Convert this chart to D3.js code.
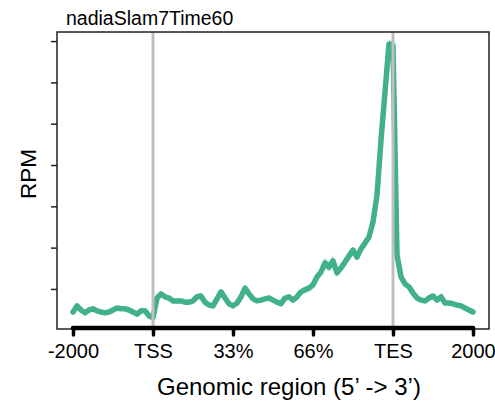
<!DOCTYPE html>
<meta charset="utf-8">
<head>
    <title>nadiaSlam7Time60</title>
    <script type="text/javascript" src="https://cdn.jsdelivr.net/npm/d3@7/dist/d3.min.js"></script>
    <style>
        body { margin: 0; background: #fff; }
        text { font-family: 'Liberation Sans', Arial, Helvetica, sans-serif; fill: #000; }
    </style>
</head>
<body>
    <div id="chart"></div>
    <script>
        // bin positions along the metagene (0 = -2000, 20 = TSS, 80 = TES, 100 = +2000)
        var bins = d3.range(0, 101);

        // average RPM per bin
        var rpm = [0.44, 0.59, 0.49, 0.42, 0.49, 0.52, 0.47, 0.44, 0.42, 0.44,
                   0.49, 0.54, 0.52, 0.52, 0.49, 0.44, 0.39, 0.47, 0.47, 0.35,
                   0.30, 0.78, 0.88, 0.81, 0.78, 0.71, 0.71, 0.71, 0.68, 0.68,
                   0.71, 0.81, 0.83, 0.68, 0.61, 0.59, 0.76, 0.93, 0.78, 0.64,
                   0.59, 0.66, 0.81, 1.02, 0.88, 0.76, 0.71, 0.73, 0.76, 0.78,
                   0.73, 0.68, 0.64, 0.78, 0.81, 0.73, 0.81, 0.93, 0.98, 1.02,
                   1.10, 1.29, 1.41, 1.63, 1.53, 1.68, 1.39, 1.51, 1.65, 1.80,
                   1.94, 1.77, 1.97, 2.11, 2.26, 2.62, 3.27, 4.60, 5.77, 6.93,
                   6.90, 1.82, 1.29, 1.12, 1.05, 0.90, 0.78, 0.73, 0.71, 0.78,
                   0.83, 0.73, 0.81, 0.66, 0.66, 0.64, 0.61, 0.59, 0.54, 0.49,
                   0.44];

        // standard error band half-width per bin
        var se = [0.04, 0.04, 0.04, 0.04, 0.04, 0.04, 0.04, 0.04, 0.04, 0.04,
                  0.04, 0.04, 0.04, 0.04, 0.04, 0.04, 0.04, 0.04, 0.04, 0.04,
                  0.05, 0.06, 0.06, 0.06, 0.06, 0.06, 0.06, 0.06, 0.06, 0.06,
                  0.06, 0.07, 0.08, 0.06, 0.06, 0.06, 0.07, 0.08, 0.07, 0.06,
                  0.06, 0.06, 0.07, 0.08, 0.07, 0.06, 0.05, 0.05, 0.05, 0.05,
                  0.05, 0.05, 0.05, 0.06, 0.06, 0.06, 0.07, 0.08, 0.08, 0.08,
                  0.09, 0.10, 0.10, 0.14, 0.12, 0.14, 0.10, 0.09, 0.09, 0.08,
                  0.08, 0.08, 0.08, 0.07, 0.07, 0.07, 0.07, 0.07, 0.08, 0.10,
                  0.10, 0.06, 0.05, 0.05, 0.05, 0.04, 0.04, 0.04, 0.04, 0.05,
                  0.05, 0.05, 0.05, 0.04, 0.04, 0.04, 0.04, 0.04, 0.04, 0.04,
                  0.04];

        var xTickPos = [0, 20, 40, 60, 80, 100];
        var xTickLabels = ["-2000", "TSS", "33%", "66%", "TES", "2000"];
        var markers = [20, 80];   // TSS and TES
        var yTicks = [1, 2, 3, 4, 5, 6, 7];

        var title = "nadiaSlam7Time60";
        var xTitle = "Genomic region (5\u2019 -> 3\u2019)";
        var yTitle = "RPM";

        var w = 495, h = 401;
        // plot box (note: "top" is reserved on window, so use other names)
        var boxL = 57, boxR = 489, boxT = 32, boxB = 329;
        var lineColor = "#42b08b";

        var svg = d3.select("#chart").append("svg")
            .attr("width", w)
            .attr("height", h);

        var x = d3.scaleLinear().domain([-4, 104]).range([boxL, boxR]);
        var y = d3.scaleLinear().domain([0.03, 7.22]).range([boxB, boxT]);

        var data = bins.map(function(b, i) {
            return { b: b, v: rpm[i], lo: rpm[i] - se[i], hi: rpm[i] + se[i] };
        });

        // confidence band
        svg.append("path")
            .datum(data)
            .attr("fill", lineColor)
            .attr("fill-opacity", 0.3)
            .attr("d", d3.area()
                .x(function(d) { return x(d.b); })
                .y0(function(d) { return y(d.lo); })
                .y1(function(d) { return y(d.hi); }));

        // profile line
        svg.append("path")
            .datum(data)
            .attr("fill", "none")
            .attr("stroke", lineColor)
            .attr("stroke-width", 5.5)
            .attr("stroke-linejoin", "round")
            .attr("stroke-linecap", "round")
            .attr("d", d3.line()
                .x(function(d) { return x(d.b); })
                .y(function(d) { return y(d.v); }));

        // TSS / TES markers
        svg.selectAll(".marker")
            .data(markers)
            .enter()
            .append("line")
            .attr("class", "marker")
            .attr("x1", function(d) { return x(d); })
            .attr("x2", function(d) { return x(d); })
            .attr("y1", boxT)
            .attr("y2", boxB)
            .attr("stroke", "#bfbfbf")
            .attr("stroke-width", 3);

        // box
        svg.append("rect")
            .attr("x", boxL)
            .attr("y", boxT)
            .attr("width", boxR - boxL)
            .attr("height", boxB - boxT)
            .attr("fill", "none")
            .attr("stroke", "#222")
            .attr("stroke-width", 1.5);

        // y axis ticks, no labels
        var yAxis = d3.axisLeft(y)
            .tickValues(yTicks)
            .tickSize(6)
            .tickFormat("");
        var gy = svg.append("g")
            .attr("transform", "translate(" + boxL + ",0)")
            .call(yAxis);
        gy.select(".domain").remove();
        gy.selectAll(".tick line").attr("stroke", "#222").attr("stroke-width", 1.5);

        // x axis, thick like R's lwd axis
        var xAxis = d3.axisBottom(x)
            .tickValues(xTickPos)
            .tickSize(7)
            .tickPadding(9)
            .tickFormat(function(d, i) { return xTickLabels[i]; });
        var gx = svg.append("g")
            .attr("transform", "translate(0," + (boxB - 1) + ")")
            .call(xAxis);
        gx.select(".domain")
            .attr("d", "M" + x(0) + ",0H" + x(100))
            .attr("stroke", "#000")
            .attr("stroke-width", 4.5)
            .attr("stroke-linecap", "round");
        gx.selectAll(".tick line")
            .attr("stroke", "#000")
            .attr("stroke-width", 3.5)
            .attr("stroke-linecap", "round");
        gx.selectAll(".tick text")
            .style("font-size", "20px")
            .style("font-family", "'Liberation Sans', Arial, sans-serif")
            .attr("fill", "#000");

        // titles
        svg.append("text")
            .attr("x", 66)
            .attr("y", 25)
            .style("font-size", "19.5px")
            .text(title);

        svg.append("text")
            .attr("x", 157)
            .attr("y", 395)
            .style("font-size", "24px")
            .text(xTitle);

        svg.append("text")
            .attr("transform", "translate(36,174) rotate(-90)")
            .attr("text-anchor", "middle")
            .style("font-size", "22.5px")
            .text(yTitle);
    </script>
</body>
</html>
